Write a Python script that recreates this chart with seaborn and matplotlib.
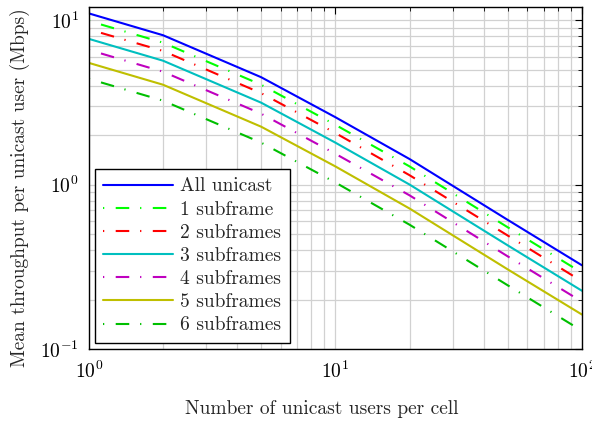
import numpy as np
import pandas as pd
import matplotlib
matplotlib.use("Agg")
import matplotlib.pyplot as plt
import seaborn as sns

users = [1, 2, 5, 10, 20, 50, 100]
all_unicast = [11.0, 8.1, 4.5, 2.57, 1.43, 0.61, 0.323]
sub1 = [9.9, 7.3, 4.05, 2.31, 1.29, 0.55, 0.291]
sub2 = [8.8, 6.5, 3.6, 2.06, 1.14, 0.49, 0.258]
sub3 = [7.7, 5.67, 3.15, 1.8, 1.0, 0.427, 0.226]
sub4 = [6.6, 4.86, 2.7, 1.54, 0.86, 0.366, 0.194]
sub5 = [5.5, 4.05, 2.25, 1.29, 0.715, 0.305, 0.162]
sub6 = [4.4, 3.24, 1.8, 1.03, 0.57, 0.244, 0.129]

labels = ["All unicast", "1 subframe", "2 subframes", "3 subframes",
          "4 subframes", "5 subframes", "6 subframes"]
series = [all_unicast, sub1, sub2, sub3, sub4, sub5, sub6]
colors = [(0, 0, 1), (0, 1, 0), (1, 0, 0), (0, 0.75, 0.75),
          (0.75, 0, 0.75), (0.75, 0.75, 0), (0, 0.75, 0)]
dashdot = (0.6, 5.5, 6.5, 5.2)
styles = [None, dashdot, dashdot, None, dashdot, None, dashdot]

sns.set_style("white")
plt.rcParams.update({
    "font.family": ["cmr10", "DejaVu Serif"],
    "mathtext.fontset": "cm",
    "axes.formatter.use_mathtext": True,
    "axes.unicode_minus": False,
})

fig = plt.figure(figsize=(5.92, 4.22), dpi=100)
ax = fig.add_axes([0.150, 0.173, 0.833, 0.810])

for lab, vals, col, st in zip(labels, series, colors, styles):
    df = pd.DataFrame({"users": users, "thr": vals})
    sns.lineplot(data=df, x="users", y="thr", ax=ax, color=col, label=lab,
                 lw=1.5, sort=False)
    if st is not None:
        ax.lines[-1].set_dashes(st)

ax.set_xscale("log")
ax.set_yscale("log")
ax.set_xlim(1, 100)
ax.set_ylim(0.1, 12)

ax.grid(True, which="both", color=(0.82, 0.82, 0.82), lw=0.9)
ax.set_axisbelow(True)
for s in ax.spines.values():
    s.set_visible(True)
    s.set_color("black")
    s.set_linewidth(1.0)

ax.tick_params(which="both", direction="in", top=True, right=True,
               labelsize=14, colors="black")
ax.tick_params(which="major", length=5, width=0.8)
ax.tick_params(which="minor", length=3, width=0.6)
ax.tick_params(axis="x", pad=8)
ax.tick_params(axis="y", pad=7)

ax.set_xlabel("Number of unicast users per cell", fontsize=14)
ax.set_ylabel("Mean throughput per unicast user (Mbps)", fontsize=14)
ax.xaxis.set_label_coords(0.473, -0.148)
ax.yaxis.set_label_coords(-0.12, 0.471)

leg = ax.legend(loc="lower left", fontsize=14, handlelength=3.6,
                handletextpad=0.36, labelspacing=0.27, borderaxespad=0.3,
                frameon=True, fancybox=False, framealpha=1, edgecolor="black",
                borderpad=0.45)
leg.get_frame().set_linewidth(1.0)

fig.savefig("out.png", dpi=100)
